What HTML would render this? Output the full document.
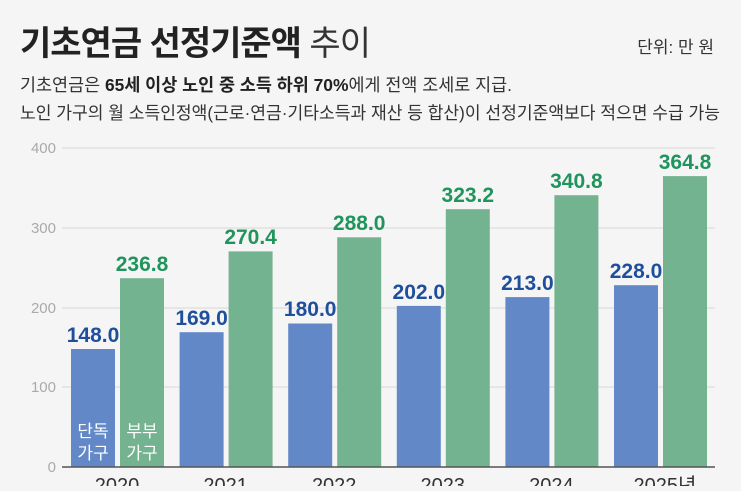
<!DOCTYPE html>
<html><head><meta charset="utf-8"><style>
body{margin:0;width:741px;height:486px;overflow:hidden;background:#f5f5f5;font-family:"Liberation Sans","Noto Sans CJK KR",sans-serif;}
</style></head><body>
<svg width="741" height="486" xmlns="http://www.w3.org/2000/svg" style="font-family:'Liberation Sans','Noto Sans CJK KR',sans-serif">
<rect width="741" height="486" fill="#f5f5f5"/>
<text x="20" y="55" font-size="34" font-weight="bold" fill="#222" letter-spacing="-1">기초연금 선정기준액 <tspan font-weight="normal" fill="#333">추이</tspan></text>
<text x="714" y="53" font-size="17" fill="#333" text-anchor="end">단위: 만 원</text>
<text x="20" y="91" font-size="17.5" fill="#333" textLength="492" lengthAdjust="spacingAndGlyphs">기초연금은 <tspan font-weight="bold" fill="#222">65세 이상 노인 중 소득 하위 70%</tspan>에게 전액 조세로 지급.</text>
<text x="20" y="119" font-size="17.5" fill="#333" textLength="700" lengthAdjust="spacingAndGlyphs">노인 가구의 월 소득인정액(근로·연금·기타소득과 재산 등 합산)이 선정기준액보다 적으면 수급 가능</text>
<g stroke="#d8d8d8" stroke-width="1">
<line x1="62" x2="715" y1="148" y2="148"/><line x1="62" x2="715" y1="228" y2="228"/><line x1="62" x2="715" y1="308" y2="308"/><line x1="62" x2="715" y1="387" y2="387"/>
</g>
<g font-size="15" fill="#aaa" text-anchor="end">
<text x="56" y="153">400</text><text x="56" y="233">300</text><text x="56" y="313">200</text><text x="56" y="392">100</text><text x="56" y="472">0</text>
</g>
<g fill="#6288c8">
<rect x="71" y="349" width="44" height="118"/>
<rect x="179.6" y="332.2" width="44" height="134.8"/>
<rect x="288.2" y="323.5" width="44" height="143.5"/>
<rect x="396.8" y="305.9" width="44" height="161.1"/>
<rect x="505.4" y="297.1" width="44" height="169.9"/>
<rect x="614" y="285.2" width="44" height="181.8"/>
</g>
<g fill="#74b38f">
<rect x="120" y="278.2" width="44" height="188.8"/>
<rect x="228.6" y="251.4" width="44" height="215.6"/>
<rect x="337.2" y="237.3" width="44" height="229.7"/>
<rect x="445.8" y="209.2" width="44" height="257.8"/>
<rect x="554.4" y="195.2" width="44" height="271.8"/>
<rect x="663" y="176.1" width="44" height="290.9"/>
</g>
<g font-size="21" font-weight="bold" fill="#1f4f9c" text-anchor="middle">
<text x="93" y="342">148.0</text>
<text x="201.6" y="325">169.0</text>
<text x="310.2" y="316">180.0</text>
<text x="418.8" y="299">202.0</text>
<text x="527.4" y="290">213.0</text>
<text x="636" y="278">228.0</text>
</g>
<g font-size="21" font-weight="bold" fill="#1f945c" text-anchor="middle">
<text x="142" y="271">236.8</text>
<text x="250.6" y="244">270.4</text>
<text x="359.2" y="230">288.0</text>
<text x="467.8" y="202">323.2</text>
<text x="576.4" y="188">340.8</text>
<text x="685" y="169">364.8</text>
</g>
<g font-size="17" fill="#fff" text-anchor="middle">
<text x="93" y="437">단독</text><text x="93" y="459">가구</text>
<text x="142" y="437">부부</text><text x="142" y="459">가구</text>
</g>
<line x1="62" x2="715" y1="467" y2="467" stroke="#555" stroke-width="1.5"/>
<g font-size="20" fill="#333" text-anchor="middle">
<text x="117" y="492">2020</text>
<text x="225.6" y="492">2021</text>
<text x="334.2" y="492">2022</text>
<text x="442.8" y="492">2023</text>
<text x="551.4" y="492">2024</text>
<text x="665" y="492">2025년</text>
</g>
</svg>
</body></html>
